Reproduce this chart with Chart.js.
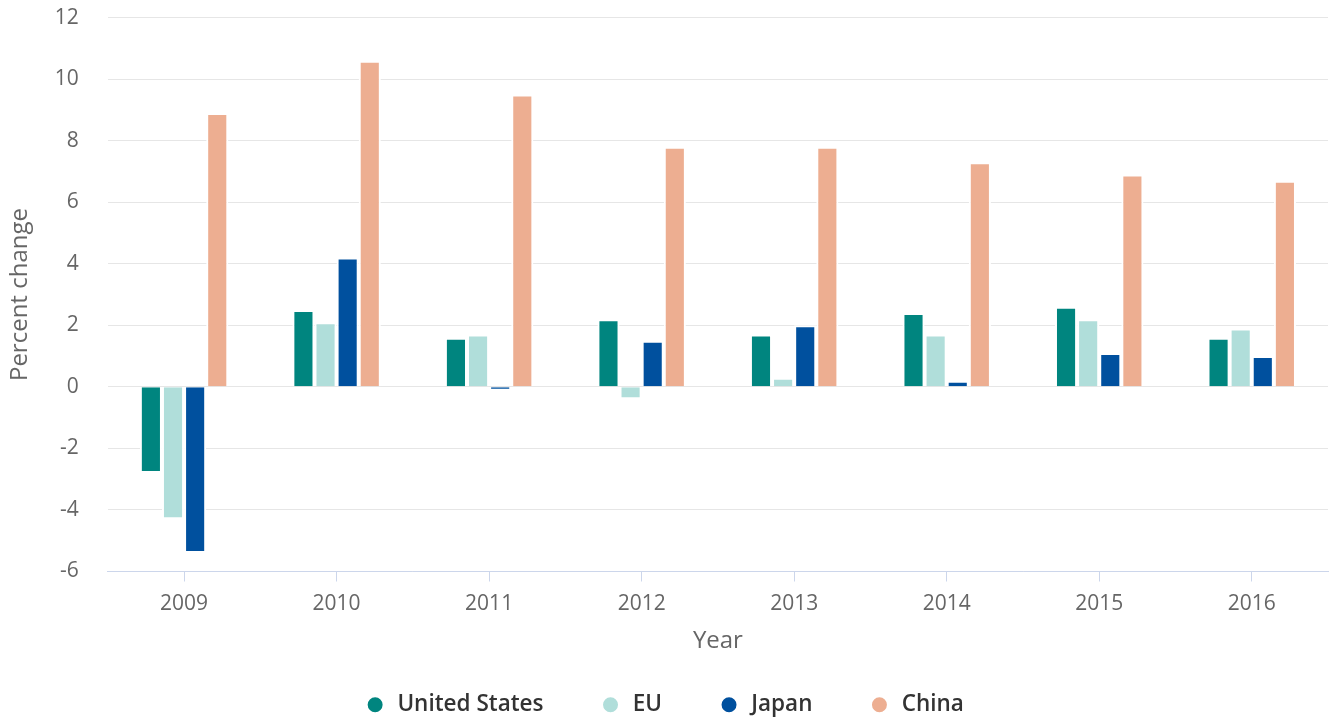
<!DOCTYPE html>
<html>
<head>
<meta charset="utf-8">
<script src="https://cdn.jsdelivr.net/npm/chart.js@4"></script>
<style>
  html, body { margin: 0; padding: 0; background: #fff; }
  #wrap { width: 1331px; height: 721px; }
</style>
</head>
<body>
<div id="wrap"><canvas id="gdpChart" width="1331" height="721"></canvas></div>
<script>
const years = ["2009", "2010", "2011", "2012", "2013", "2014", "2015", "2016"];
const unitedStates = [-2.8, 2.5, 1.6, 2.2, 1.7, 2.4, 2.6, 1.6];
const eu = [-4.3, 2.1, 1.7, -0.4, 0.3, 1.7, 2.2, 1.9];
const japan = [-5.4, 4.2, -0.1, 1.5, 2.0, 0.2, 1.1, 1.0];
const china = [8.9, 10.6, 9.5, 7.8, 7.8, 7.3, 6.9, 6.7];
const yTicks = [-6, -4, -2, 0, 2, 4, 6, 8, 10, 12];

const font = "'Open Sans', sans-serif";

function series(label, data, color) {
  return {
    label: label,
    data: data,
    backgroundColor: color,
    borderColor: "#ffffff",
    borderWidth: 2,
    borderSkipped: "start",
    categoryPercentage: 0.58,
    barPercentage: 1
  };
}

new Chart(document.getElementById("gdpChart"), {
  type: "bar",
  data: {
    labels: years,
    datasets: [
      series("United States", unitedStates, "#00857f"),
      series("EU", eu, "#b0deda"),
      series("Japan", japan, "#00509e"),
      series("China", china, "#edae91")
    ]
  },
  options: {
    responsive: false,
    animation: false,
    layout: { padding: { left: 0, right: 3, top: 0, bottom: -5 } },
    plugins: {
      tooltip: { enabled: false },
      legend: {
        position: "bottom",
        labels: {
          usePointStyle: true,
          pointStyle: "circle",
          boxWidth: 22,
          boxHeight: 12,
          padding: 56,
          color: "#333333",
          font: { family: font, size: 22.5, weight: "600" }
        }
      }
    },
    scales: {
      x: {
        grid: {
          display: true,
          drawOnChartArea: false,
          drawTicks: true,
          offset: false,
          tickLength: 10,
          color: "#ccd6eb"
        },
        border: { color: "#ccd6eb", width: 1 },
        ticks: { color: "#666666", font: { family: font, size: 21 }, padding: 10 },
        title: {
          display: true,
          text: "Year",
          color: "#666666",
          font: { family: font, size: 24 },
          // title hangs into the legend band, like the original layout
          padding: { top: 0, bottom: -18 }
        }
      },
      y: {
        min: -6,
        max: 12,
        afterBuildTicks: axis => { axis.ticks = yTicks.map(v => ({ value: v })); },
        grid: { color: "#e6e6e6", lineWidth: 1, drawTicks: true, tickLength: 24, tickColor: "rgba(0,0,0,0)" },
        border: { display: false },
        ticks: { color: "#666666", font: { family: font, size: 21 }, padding: 5 },
        title: {
          display: true,
          text: "Percent change",
          color: "#666666",
          font: { family: font, size: 24 },
          padding: { top: 6, bottom: 15 }
        }
      }
    }
  }
});
</script>
</body>
</html>
